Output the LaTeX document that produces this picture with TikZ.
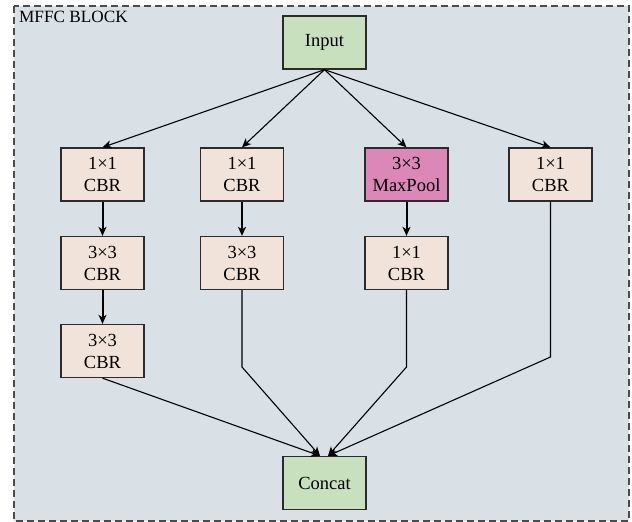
\documentclass[tikz,border=0pt]{standalone}
\usepackage{fontspec}
\setmainfont{Liberation Serif}
\usetikzlibrary{arrows.meta}

\definecolor{panelbg}{HTML}{D9E0E6}
\definecolor{cbrfill}{HTML}{F2E3DA}
\definecolor{iofill}{HTML}{C9E0BF}
\definecolor{poolfill}{HTML}{DB88B8}
\definecolor{edgegray}{HTML}{2B2B2B}

\tikzset{
  block/.style={draw=edgegray, line width=1.3pt, minimum width=83pt, minimum height=53pt,
    inner sep=0pt, align=center, font=\fontsize{18.5}{22}\selectfont},
  cbr/.style={block, fill=cbrfill},
  io/.style={block, fill=iofill},
  pool/.style={block, fill=poolfill},
  link/.style={line width=1.1pt, -{Stealth[length=9pt,width=8pt,inset=2.5pt]}},
  thick link/.style={link, line width=2pt},
}

\begin{document}
\begin{tikzpicture}[x=1pt,y=-1pt]
  \useasboundingbox (0,0) rectangle (632,522);

  % block frame
  \draw[fill=panelbg, draw=edgegray!85, line width=1.2pt, dash pattern=on 7pt off 4pt]
    (14,6) rectangle (629,521);
  \node[anchor=north west, inner sep=0pt, font=\fontsize{17.2}{20}\selectfont] (title) at (19,11) {MFFC BLOCK};

  % nodes
  \node[io]   (input)  at (324.5,42.5) {Input};

  \node[cbr]  (a1) at (102.5,174.5) {1×1\\CBR};
  \node[cbr]  (a2) at (102.5,263)   {3×3\\CBR};
  \node[cbr]  (a3) at (102.5,351)   {3×3\\CBR};

  \node[cbr]  (b1) at (242,174.5)   {1×1\\CBR};
  \node[cbr]  (b2) at (242,263)     {3×3\\CBR};

  \node[pool] (c1) at (406.5,174.5) {3×3\\MaxPool};
  \node[cbr]  (c2) at (406.5,263)   {1×1\\CBR};

  \node[cbr]  (d1) at (550.5,174.5) {1×1\\CBR};

  \node[io]   (concat) at (324.5,483) {Concat};

  % fan-out from the input
  \foreach \t in {a1,b1,c1,d1}
    \draw[link] (input.south) -- (\t.north);

  % vertical chains
  \draw[thick link] (a1) -- (a2);
  \draw[thick link] (a2) -- (a3);
  \draw[thick link] (b1) -- (b2);
  \draw[thick link] (c1) -- (c2);

  % merge into concat
  \coordinate (inL) at ([xshift=-4.5pt]concat.north);
  \coordinate (inR) at ([xshift=3.5pt]concat.north);
  \coordinate (bendB) at (242,367);
  \coordinate (bendC) at (406.5,367);
  \coordinate (bendD) at (550.5,357);
  \draw[link] (a3.south) -- (inL);
  \draw[link] (b2.south) -- (bendB) -- (inL);
  \draw[link] (c2.south) -- (bendC) -- (inR);
  \draw[link] (d1.south) -- (bendD) -- (inR);
\end{tikzpicture}
\end{document}
